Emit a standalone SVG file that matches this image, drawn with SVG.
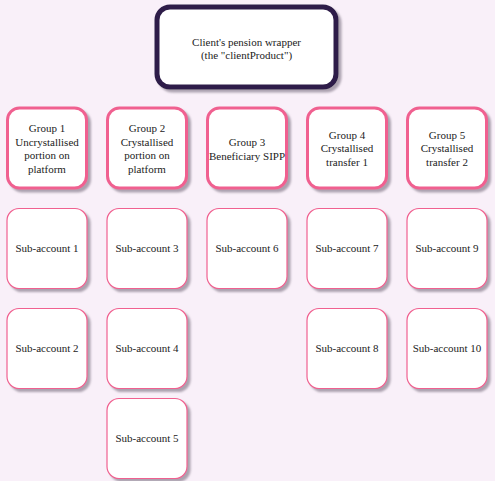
<svg xmlns="http://www.w3.org/2000/svg" width="495" height="481" viewBox="0 0 495 481">
<defs>
<filter id="sh" x="-20%" y="-20%" width="150%" height="150%">
<feDropShadow dx="3" dy="3" stdDeviation="1" flood-color="#8a8090" flood-opacity="0.7"/>
</filter>
<style>
.t{font-family:"Liberation Serif","Times New Roman",serif;font-size:11px;fill:#222;text-anchor:middle}
.top{fill:#fff;stroke:#2e1f48;stroke-width:5;filter:url(#sh)}
.grp{fill:#fff;stroke:#f06090;stroke-width:3;filter:url(#sh)}
.sub{fill:#fff;stroke:#f06090;stroke-width:1.2;filter:url(#sh)}
</style>
</defs>
<rect width="495" height="481" fill="#f9f0f9"/>
<g id="connectors"></g>
<g id="client">
<rect class="top" x="157" y="7" width="179" height="80" rx="13"/>
<text class="t" x="246.5" y="45.5">Client's pension wrapper</text>
<text class="t" x="246.5" y="59">(the "clientProduct")</text>
</g>
<g id="group1">
<rect class="grp" x="7.5" y="108" width="79" height="80" rx="12"/>
<text class="t" x="47" y="132">Group 1</text>
<text class="t" x="47" y="145.5">Uncrystallised</text>
<text class="t" x="47" y="159">portion on</text>
<text class="t" x="47" y="172.5">platform</text>
</g>
<g id="group2">
<rect class="grp" x="107.5" y="108" width="79" height="80" rx="12"/>
<text class="t" x="147" y="132">Group 2</text>
<text class="t" x="147" y="145.5">Crystallised</text>
<text class="t" x="147" y="159">portion on</text>
<text class="t" x="147" y="172.5">platform</text>
</g>
<g id="group3">
<rect class="grp" x="207.5" y="108" width="79" height="80" rx="12"/>
<text class="t" x="247" y="145.5">Group 3</text>
<text class="t" x="247" y="159.5">Beneficiary SIPP</text>
</g>
<g id="group4">
<rect class="grp" x="307.5" y="108" width="79" height="80" rx="12"/>
<text class="t" x="347" y="139">Group 4</text>
<text class="t" x="347" y="152">Crystallised</text>
<text class="t" x="347" y="165.5">transfer 1</text>
</g>
<g id="group5">
<rect class="grp" x="407.5" y="108" width="79" height="80" rx="12"/>
<text class="t" x="447" y="139">Group 5</text>
<text class="t" x="447" y="152">Crystallised</text>
<text class="t" x="447" y="165.5">transfer 2</text>
</g>
<g id="sub1"><rect class="sub" x="7" y="208.5" width="80" height="80" rx="12"/><text class="t" x="47" y="252">Sub-account 1</text></g>
<g id="sub2"><rect class="sub" x="7" y="308.5" width="80" height="80" rx="12"/><text class="t" x="47" y="352">Sub-account 2</text></g>
<g id="sub3"><rect class="sub" x="107" y="208.5" width="80" height="80" rx="12"/><text class="t" x="147" y="252">Sub-account 3</text></g>
<g id="sub4"><rect class="sub" x="107" y="308.5" width="80" height="80" rx="12"/><text class="t" x="147" y="352">Sub-account 4</text></g>
<g id="sub5"><rect class="sub" x="107" y="398.5" width="80" height="80" rx="12"/><text class="t" x="147" y="442">Sub-account 5</text></g>
<g id="sub6"><rect class="sub" x="207" y="208.5" width="80" height="80" rx="12"/><text class="t" x="247" y="252">Sub-account 6</text></g>
<g id="sub7"><rect class="sub" x="307" y="208.5" width="80" height="80" rx="12"/><text class="t" x="347" y="252">Sub-account 7</text></g>
<g id="sub8"><rect class="sub" x="307" y="308.5" width="80" height="80" rx="12"/><text class="t" x="347" y="352">Sub-account 8</text></g>
<g id="sub9"><rect class="sub" x="407" y="208.5" width="80" height="80" rx="12"/><text class="t" x="447" y="252">Sub-account 9</text></g>
<g id="sub10"><rect class="sub" x="407" y="308.5" width="80" height="80" rx="12"/><text class="t" x="447" y="352">Sub-account 10</text></g>
</svg>
